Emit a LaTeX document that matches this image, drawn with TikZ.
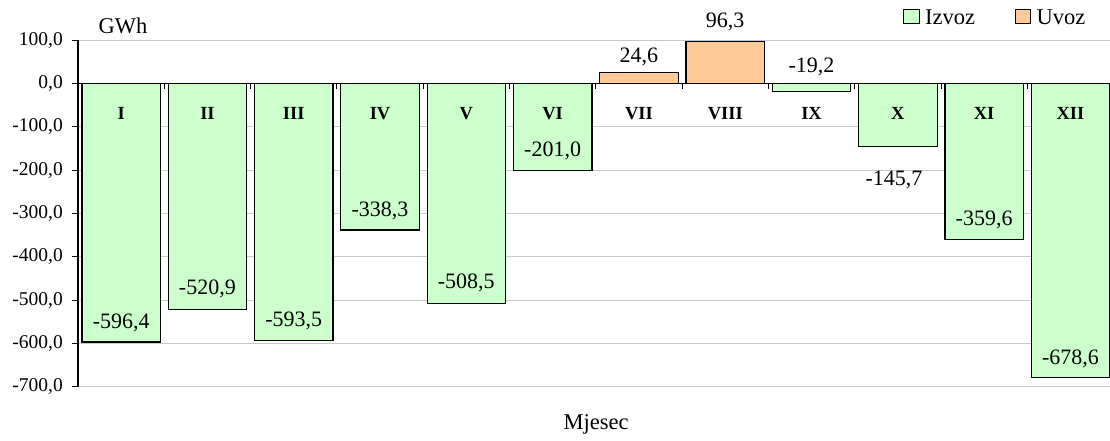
\documentclass[tikz,border=0pt]{standalone}
\usepackage{fontspec}
\setmainfont{Liberation Serif}
\definecolor{exgreen}{HTML}{CCFFCC}
\definecolor{imorange}{HTML}{FFCC99}
\definecolor{gridgray}{HTML}{C8C8C8}
\begin{document}
\begin{tikzpicture}[x=1pt,y=-1pt,
  axislabel/.style={anchor=east,font=\fontsize{19.5}{20}\selectfont,inner sep=0pt},
  monthlabel/.style={font=\fontsize{18.5}{19}\selectfont\bfseries,inner sep=0pt},
  vallabel/.style={font=\fontsize{22}{23}\selectfont,inner sep=0pt},
  titlelabel/.style={font=\fontsize{22.5}{23}\selectfont,inner sep=0pt},
  exportbar/.style={fill=exgreen,draw=black,line width=1.2pt},
  importbar/.style={fill=imorange,draw=black,line width=1.2pt},
  gridline/.style={draw=gridgray,line width=1pt},
  axisline/.style={draw=black,line width=1.2pt},
  tickline/.style={draw=black,line width=0.9pt}]
\useasboundingbox (0,0) rectangle (1110,441);
% gridlines
\foreach \v in {100,-100,-200,-300,-400,-500,-600,-700}
  \draw[gridline] (78,{83.5-0.4333*\v}) -- (1110,{83.5-0.4333*\v});
% bars
\foreach \i/\v/\s in {1/-596.4/exportbar,2/-520.9/exportbar,3/-593.5/exportbar,4/-338.3/exportbar,5/-508.5/exportbar,6/-201.0/exportbar,7/24.6/importbar,8/96.3/importbar,9/-19.2/exportbar,10/-145.7/exportbar,11/-359.6/exportbar,12/-678.6/exportbar}
  \draw[\s] ({78+86.3*(\i-0.5)-39.25},83.5) rectangle ({78+86.3*(\i-0.5)+39.25},{83.5-0.4333*\v});
% axes
\draw[axisline] (78,83.5) -- (1110,83.5);
\draw[axisline] (78,40.2) -- (78,386.8);
\foreach \v in {100,0,-100,-200,-300,-400,-500,-600,-700}
  \draw[tickline] (72,{83.5-0.4333*\v}) -- (78,{83.5-0.4333*\v});
\foreach \k in {1,...,11}
  \draw[tickline] ({78+86.3*\k},83.5) -- ++(0,5.5);
% axis labels
\foreach \v/\t in {100/{100,0},0/{0,0},-100/{-100,0},-200/{-200,0},-300/{-300,0},-400/{-400,0},-500/{-500,0},-600/{-600,0},-700/{-700,0}}
  \node[axislabel] (ax\v) at (63,{83.5-0.4333*\v}) {\t};
% month labels
\foreach \i/\m in {1/I,2/II,3/III,4/IV,5/V,6/VI,7/VII,8/VIII,9/IX,10/X,11/XI,12/XII}
  \node[monthlabel] (m\i) at ({78+86.3*(\i-0.5)},113.3) {\m};
% value labels
\node[vallabel] (v1) at (121.2,322.5) {-596,4};
\node[vallabel] (v2) at (207.4,289.3) {-520,9};
\node[vallabel] (v3) at (293.7,320.5) {-593,5};
\node[vallabel] (v4) at (380,210.7) {-338,3};
\node[vallabel] (v5) at (466.3,283.3) {-508,5};
\node[vallabel] (v6) at (552.6,150.5) {-201,0};
\node[vallabel] (v7) at (638.9,57.3) {24,6};
\node[vallabel] (v8) at (725.2,21.7) {96,3};
\node[vallabel] (v9) at (811.5,66.7) {-19,2};
\node[vallabel] (v10) at (894,180) {-145,7};
\node[vallabel] (v11) at (984.1,220) {-359,6};
\node[vallabel] (v12) at (1070.4,359) {-678,6};
% titles
\node[titlelabel] (unit) at (123,25.5) {GWh};
\node[titlelabel] (xtitle) at (596,424) {Mjesec};
% legend
\draw[exportbar,line width=1pt] (903.3,10) rectangle (919.3,24);
\node[titlelabel,anchor=west] (lgex) at (925,17.5) {Izvoz};
\draw[importbar,line width=1pt] (1015,10) rectangle (1030.7,24);
\node[titlelabel,anchor=west] (lgim) at (1036.5,17.5) {Uvoz};
\end{tikzpicture}
\end{document}
